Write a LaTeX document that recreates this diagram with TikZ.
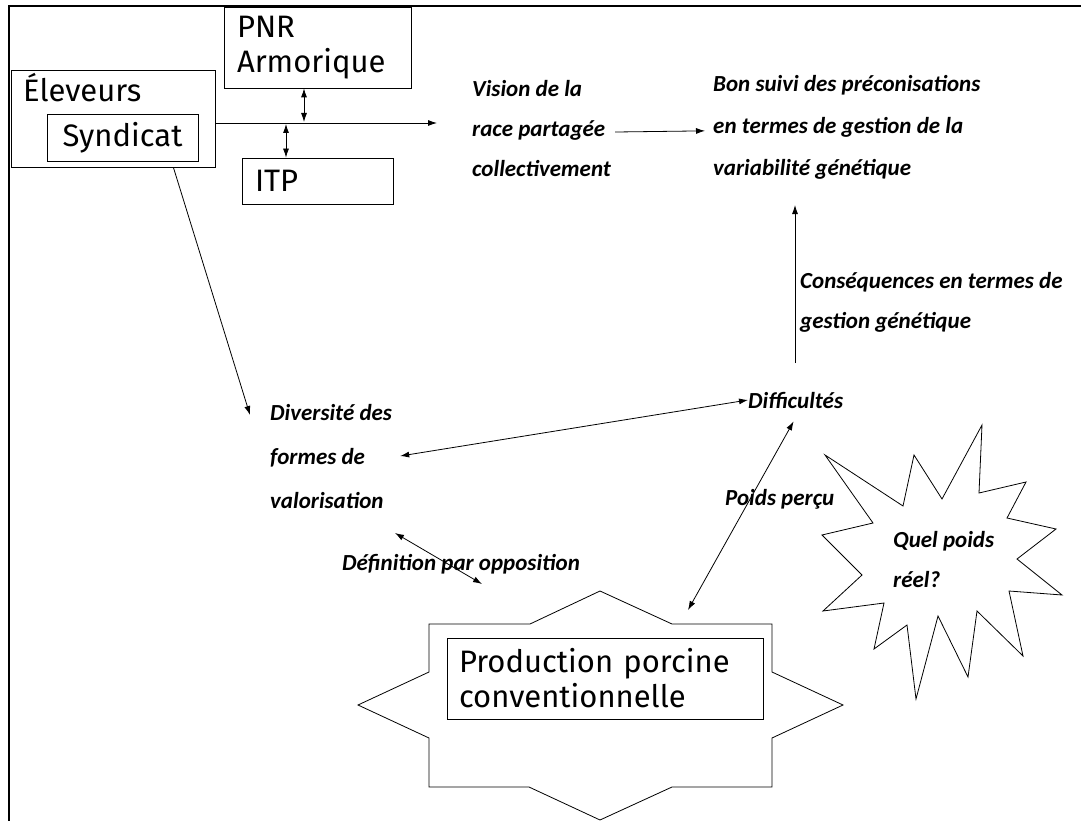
\documentclass[tikz,border=0pt]{standalone}
\usepackage{fontspec}
\setmainfont{Fira Sans}
\newfontfamily\handfont{Carlito}
\usetikzlibrary{arrows.meta}

\tikzset{
  actor/.style={draw, line width=0.8pt, inner sep=0pt, font=\fontsize{31}{35}\selectfont},
  remark/.style={font=\handfont\bfseries\itshape\fontsize{23}{40}\selectfont, align=left, inner sep=0pt, anchor=base west},
  link/.style={line width=0.8pt, -{Latex[length=9pt,width=6pt]}},
  twolink/.style={line width=0.8pt, {Latex[length=9pt,width=6pt]}-{Latex[length=9pt,width=6pt]}},
  outline/.style={line width=0.8pt, line join=miter},
}

\begin{document}
\begin{tikzpicture}[x=1pt, y=1pt]
  \useasboundingbox (0,0) rectangle (1081,-821);
  \draw[line width=1.6pt] (9,-821) -- (9,-6) -- (1081,-6);

  \node[actor, minimum width=204pt, minimum height=97pt] (eleveurs) at (113,-118.5) {};
  \node[anchor=base west, inner sep=0pt, font=\fontsize{31}{35}\selectfont] (eleveurslbl) at (23,-102) {Éleveurs};
  \node[actor, minimum width=151pt, minimum height=47pt] (syndicat) at (122.5,-137.5) {Syndicat};
  \node[actor, minimum width=187pt, minimum height=81pt, text width=161pt, align=left] (pnr) at (317.5,-47.5) {PNR\\Armorique};
  \node[actor, minimum width=151pt, minimum height=46pt, text width=125pt, align=left] (itp) at (317.5,-181) {ITP};

  % base anchor of a multi-line remark sits on its last line
  \node[remark] (vision) at (472,-177) {Vision de la\\race partagée\\collectivement};
  \node[remark, font=\handfont\bfseries\itshape\fontsize{23}{42}\selectfont] (bonsuivi) at (713,-176) {Bon suivi des préconisations\\en termes de gestion de la\\variabilité génétique};
  \node[remark] (consequences) at (800,-328) {Conséquences en termes de\\gestion génétique};
  \node[remark] (difficultes) at (748,-408) {Difficultés};
  \node[remark, font=\handfont\bfseries\itshape\fontsize{23}{44}\selectfont] (diversite) at (270,-508) {Diversité des\\formes de\\valorisation};
  \node[remark] (definition) at (342,-570) {Définition par opposition};
  \node[remark] (poids) at (725,-505) {Poids perçu};
  \node[remark] (quelpoids) at (893,-587) {Quel poids\\réel?};

  \draw[outline] (600,-591) -- (672,-624) -- (772,-624) -- (772,-672) -- (843,-705) -- (772,-738)
    -- (772,-787) -- (672,-787) -- (600,-820) -- (529,-787) -- (429,-787) -- (429,-738)
    -- (358,-705) -- (429,-672) -- (429,-624) -- (530,-624) -- cycle;
  \draw[outline] (825,-455) -- (903,-506) -- (914,-455) -- (942,-499) -- (982,-425) -- (979,-493)
    -- (1026,-482) -- (1007,-518) -- (1056,-529) -- (1017,-559) -- (1062,-595) -- (1009,-591)
    -- (1023,-656) -- (977,-611) -- (968,-677) -- (938,-616) -- (916,-699) -- (907,-625)
    -- (874,-649) -- (884,-603) -- (823,-611) -- (862,-575) -- (822,-535) -- (873,-523) -- cycle;
  \node[actor, minimum width=316pt, minimum height=81pt, text width=292pt, align=left] (production) at (605,-678.5) {Production porcine\\conventionnelle};

  \coordinate (visionin) at (437,-123);
  \coordinate (pnrlink) at (304,-122);
  \coordinate (itplink) at (286,-124);
  \coordinate (diversitein) at (250,-415);
  \coordinate (oppa) at (395,-533);
  \coordinate (oppb) at (482,-584);
  \coordinate (prodtip) at (688,-610);

  \draw[link] (eleveurs.east |- visionin) -- (visionin);
  \draw[twolink] (pnr.south -| pnrlink) -- (pnrlink);
  \draw[twolink] (itplink) -- (itp.north -| itplink);
  \draw[link] (eleveurs.-39) -- (diversitein);
  \draw[link] ([xshift=4pt,yshift=-3pt]vision.east) -- ([xshift=-8pt,yshift=-3pt]bonsuivi.west);
  \draw[link] (795,-363) -- (795,-205);
  \draw[twolink] ([xshift=8pt]diversite.east) -- (difficultes.west);
  \draw[twolink] (oppa) -- (oppb);
  \draw[twolink] ([xshift=-2pt,yshift=-13pt]difficultes.south) -- (prodtip);
\end{tikzpicture}
\end{document}
